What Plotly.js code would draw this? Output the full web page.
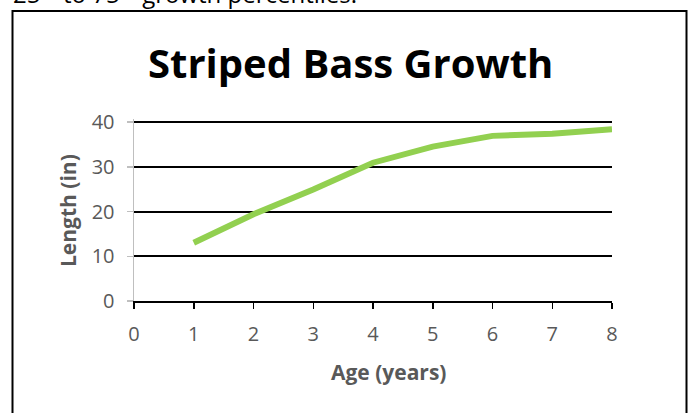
<!DOCTYPE html>
<html>
<head>
<meta charset="utf-8">
<script src="https://cdn.plot.ly/plotly-3.0.1.min.js"></script>
<style>html,body{margin:0;padding:0;background:#fff;}#chart{width:689px;height:413px;}</style>
</head>
<body>
<div id="chart"></div>
<script>
var ages = [1, 2, 3, 4, 5, 6, 7, 8];
var lengths = [13.0, 19.4, 24.9, 30.9, 34.5, 36.9, 37.4, 38.4];
var xTicks = [0, 1, 2, 3, 4, 5, 6, 7, 8];
var yTicks = [0, 10, 20, 30, 40];

var FONT = "'Open Sans', 'Noto Sans', sans-serif";
var L = 134, R = 612, T = 119, B = 301;
function px(x) { return (x - L) / (R - L); }
function py(y) { return (B - y) / (B - T); }

var trace = {
  x: ages, y: lengths, type: 'scatter', mode: 'lines',
  line: {color: '#92D050', width: 6, shape: 'linear'},
  hoverinfo: 'none'
};

var layout = {
  width: 689, height: 413,
  margin: {l: L, r: 689 - R, t: T, b: 413 - B},
  paper_bgcolor: '#ffffff', plot_bgcolor: '#ffffff',
  showlegend: false,
  font: {family: FONT, color: '#595959'},
  xaxis: {
    range: [0, 8], tickvals: xTicks, ticktext: xTicks.map(String),
    showgrid: false, zeroline: false,
    showline: true, linecolor: '#000000', linewidth: 1.5,
    ticks: 'outside', ticklen: 6, tickcolor: '#000000', tickwidth: 1.5,
    ticklabelstandoff: 8,
    tickfont: {size: 20, color: '#595959', family: FONT},
    fixedrange: true
  },
  yaxis: {
    range: [0, 40.67], tickvals: yTicks, ticktext: yTicks.map(String),
    showgrid: true, gridcolor: '#000000', gridwidth: 2,
    zeroline: false,
    showline: true, linecolor: '#BFBFBF', linewidth: 1.5,
    ticks: 'outside', ticklen: 6, tickcolor: '#BFBFBF', tickwidth: 1.5,
    ticklabelstandoff: 8,
    tickfont: {size: 20, color: '#595959', family: FONT},
    fixedrange: true
  },
  shapes: [{
    type: 'rect', xref: 'paper', yref: 'paper',
    x0: px(12.5), x1: px(686.5), y0: py(430), y1: py(11),
    line: {color: '#000000', width: 2}, fillcolor: 'rgba(0,0,0,0)', layer: 'above'
  }],
  annotations: [
    {text: '<b>Striped Bass Growth</b>', xref: 'paper', yref: 'paper',
     x: px(350), y: py(62), xanchor: 'center', yanchor: 'middle', showarrow: false,
     font: {size: 40, color: '#000000', family: FONT}},
    {text: '<b>Length (in)</b>', xref: 'paper', yref: 'paper',
     x: px(68), y: py(211), xanchor: 'center', yanchor: 'middle', showarrow: false,
     textangle: -90, font: {size: 21, color: '#595959', family: FONT}},
    {text: '<b>Age (years)</b>', xref: 'paper', yref: 'paper',
     x: px(388), y: py(372), xanchor: 'center', yanchor: 'middle', showarrow: false,
     font: {size: 21, color: '#595959', family: FONT}},
    {text: '25<sup>th</sup> to 75<sup>th</sup> growth percentiles.', xref: 'paper', yref: 'paper',
     x: px(11), y: py(12), xanchor: 'left', yanchor: 'bottom', showarrow: false,
     font: {size: 24, color: '#000000', family: FONT}}
  ]
};

Plotly.newPlot('chart', [trace], layout, {staticPlot: true, displayModeBar: false});
</script>
</body>
</html>
